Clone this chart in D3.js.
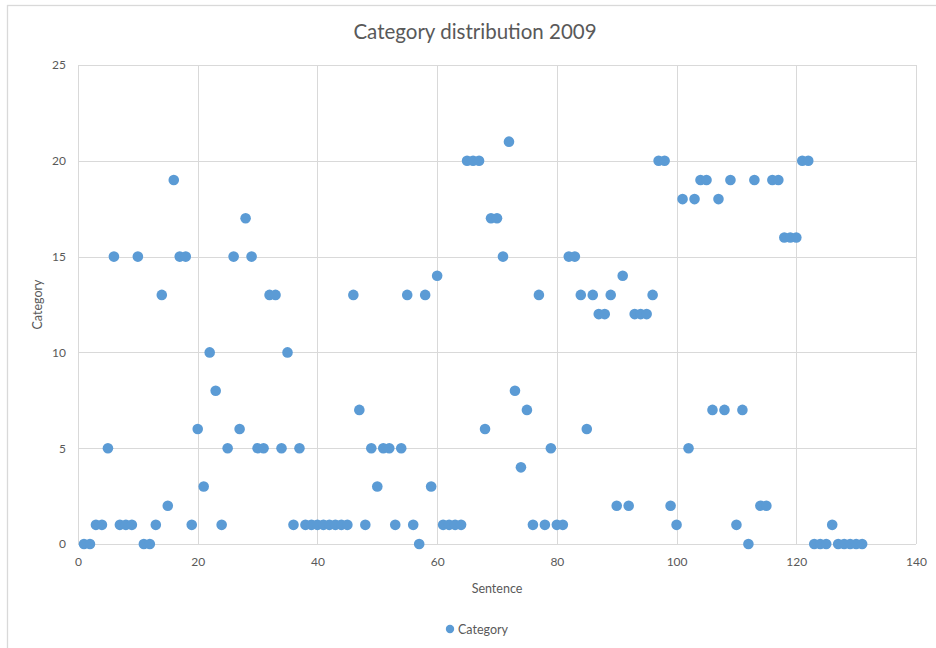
<!DOCTYPE html>
<html>
<head>
<meta charset="utf-8">
<script src="https://cdn.jsdelivr.net/npm/d3@7"></script>
<style>
  html, body { margin: 0; padding: 0; background: #fff; }
  svg { display: block; }
  text { font-family: Lato, "Open Sans", sans-serif; fill: #595959; }
</style>
</head>
<body>
<svg id="chart" width="936" height="648"></svg>
<script>
// Category assigned to each sentence (sentences numbered 1..131)
const categories = [
  0, 0, 1, 1, 5, 15, 1, 1, 1, 15,
  0, 0, 1, 13, 2, 19, 15, 15, 1, 6,
  3, 10, 8, 1, 5, 15, 6, 17, 15, 5,
  5, 13, 13, 5, 10, 1, 5, 1, 1, 1,
  1, 1, 1, 1, 1, 13, 7, 1, 5, 3,
  5, 5, 1, 5, 13, 1, 0, 13, 3, 14,
  1, 1, 1, 1, 20, 20, 20, 6, 17, 17,
  15, 21, 8, 4, 7, 1, 13, 1, 5, 1,
  1, 15, 15, 13, 6, 13, 12, 12, 13, 2,
  14, 2, 12, 12, 12, 13, 20, 20, 2, 1,
  18, 5, 18, 19, 19, 7, 18, 7, 19, 1,
  7, 0, 19, 2, 2, 19, 19, 16, 16, 16,
  20, 20, 0, 0, 0, 1, 0, 0, 0, 0,
  0
];
const sentences = categories.map((_, i) => i + 1);
const xTicks = [0, 20, 40, 60, 80, 100, 120, 140];
const yTicks = [0, 5, 10, 15, 20, 25];
const seriesName = "Category";

const svg = d3.select("#chart");
const grid = "#d9d9d9";
const dotColor = "#5b9bd5";

// chart area frame
svg.append("rect")
  .attr("x", 7.5).attr("y", 5.5)
  .attr("width", 940).attr("height", 660)
  .attr("fill", "#fff").attr("stroke", grid).attr("stroke-width", 1.3);

const plot = { left: 78, right: 916, top: 65, bottom: 544 };
const x = d3.scaleLinear().domain([0, 140]).range([plot.left, plot.right]);
const y = d3.scaleLinear().domain([0, 25]).range([plot.bottom, plot.top]);

// gridlines
svg.append("g").selectAll("line").data(xTicks).join("line")
  .attr("x1", d => Math.round(x(d)) + 0.5).attr("x2", d => Math.round(x(d)) + 0.5)
  .attr("y1", plot.top).attr("y2", plot.bottom)
  .attr("stroke", grid).attr("stroke-width", 1);
svg.append("g").selectAll("line").data(yTicks).join("line")
  .attr("x1", plot.left).attr("x2", plot.right)
  .attr("y1", d => Math.round(y(d)) + 0.5).attr("y2", d => Math.round(y(d)) + 0.5)
  .attr("stroke", grid).attr("stroke-width", 1);

// axes (labels only, the frame lines come from the gridlines)
const xAxis = svg.append("g")
  .attr("transform", `translate(0,${plot.bottom})`)
  .call(d3.axisBottom(x).tickValues(xTicks).tickSize(0).tickPadding(13));
xAxis.select(".domain").remove();
xAxis.selectAll("text").attr("font-size", 12).style("fill", "#595959")
  .attr("font-family", "Lato, 'Open Sans', sans-serif");

const yAxis = svg.append("g")
  .attr("transform", `translate(${plot.left},0)`)
  .call(d3.axisLeft(y).tickValues(yTicks).tickSize(0).tickPadding(12));
yAxis.select(".domain").remove();
yAxis.selectAll("text").attr("font-size", 12).style("fill", "#595959")
  .attr("font-family", "Lato, 'Open Sans', sans-serif");

// points
svg.append("g").selectAll("circle")
  .data(sentences.map((s, i) => ({ s, c: categories[i] })))
  .join("circle")
  .attr("cx", d => x(d.s))
  .attr("cy", d => y(d.c))
  .attr("r", 5.3)
  .attr("fill", dotColor);

// title
svg.append("text")
  .attr("x", 475).attr("y", 39)
  .attr("text-anchor", "middle")
  .attr("font-size", 20.5)
  .text("Category distribution 2009");

// axis titles
svg.append("text")
  .attr("x", (plot.left + plot.right) / 2).attr("y", 593)
  .attr("text-anchor", "middle").attr("font-size", 12.5)
  .text("Sentence");
svg.append("text")
  .attr("transform", `translate(42,${(plot.top + plot.bottom) / 2}) rotate(-90)`)
  .attr("text-anchor", "middle").attr("font-size", 12.5)
  .text("Category");

// legend
const legend = svg.append("g").attr("transform", "translate(450,629)");
legend.append("circle").attr("r", 4.2).attr("fill", dotColor);
legend.append("text").attr("x", 8).attr("y", 4.5).attr("font-size", 12.5).text(seriesName);
</script>
</body>
</html>
